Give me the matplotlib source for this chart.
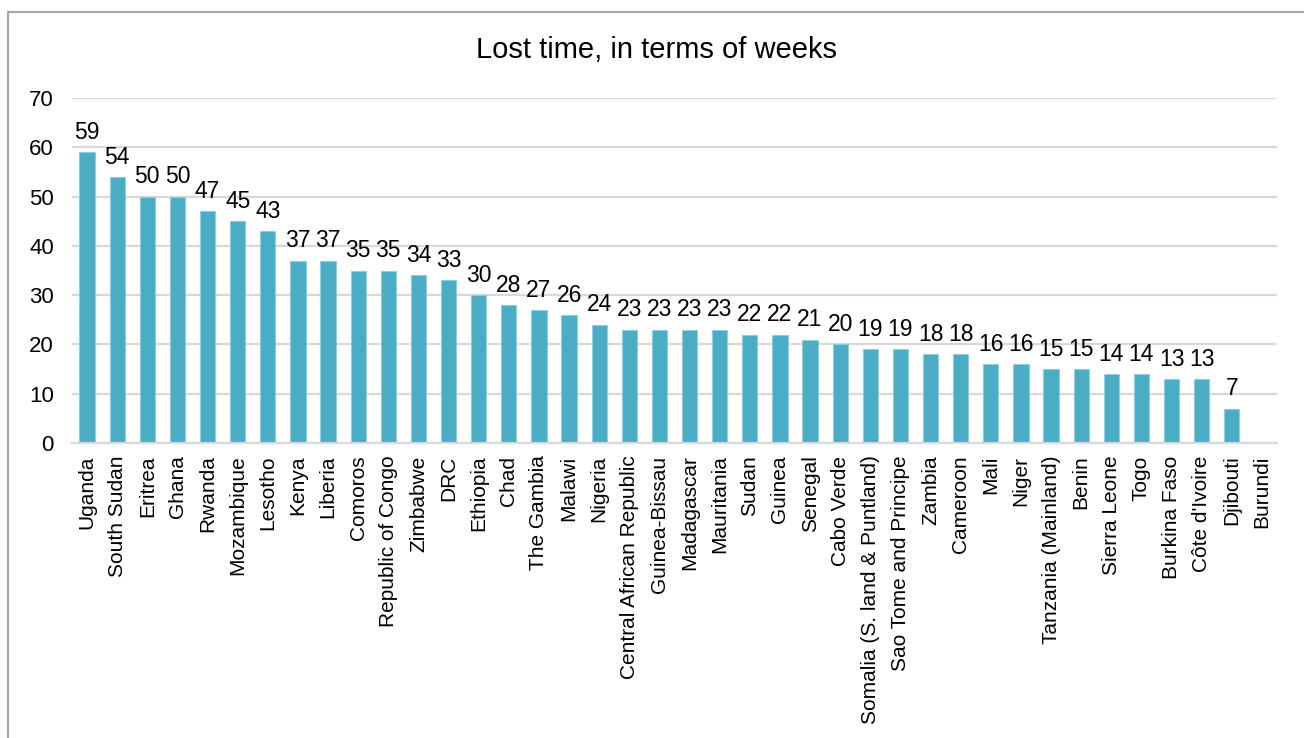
import matplotlib
matplotlib.use("Agg")
import matplotlib.pyplot as plt
import numpy as np
from matplotlib.lines import Line2D

plt.rcParams["font.family"] = ["Liberation Sans", "DejaVu Sans"]

countries = [
    "Uganda", "South Sudan", "Eritrea", "Ghana", "Rwanda", "Mozambique",
    "Lesotho", "Kenya", "Liberia", "Comoros", "Republic of Congo", "Zimbabwe",
    "DRC", "Ethiopia", "Chad", "The Gambia", "Malawi", "Nigeria",
    "Central African Republic", "Guinea-Bissau", "Madagascar", "Mauritania",
    "Sudan", "Guinea", "Senegal", "Cabo Verde", "Somalia (S. land & Puntland)",
    "Sao Tome and Principe", "Zambia", "Cameroon", "Mali", "Niger",
    "Tanzania (Mainland)", "Benin", "Sierra Leone", "Togo", "Burkina Faso",
    "Côte d'Ivoire", "Djibouti", "Burundi",
]
weeks = [
    59, 54, 50, 50, 47, 45, 43, 37, 37, 35, 35, 34, 33, 30, 28, 27, 26, 24,
    23, 23, 23, 23, 22, 22, 21, 20, 19, 19, 18, 18, 16, 16, 15, 15, 14, 14,
    13, 13, 7, None,
]
yticks = [0, 10, 20, 30, 40, 50, 60, 70]

W, H = 1304, 738
fig = plt.figure(figsize=(W / 100, H / 100), dpi=100)
ax = fig.add_axes([72 / W, 1 - 443 / H, (1277 - 72) / W, (443 - 98) / H])

vals = np.array([np.nan if v is None else v for v in weeks], dtype=float)
x = np.arange(len(countries))
ax.bar(x, np.nan_to_num(vals), width=0.51, color="#4BACC6",
       edgecolor="#8CCFE0", linewidth=0.8, zorder=3)

# value labels (skip missing values)
for xi, v in zip(x, vals):
    if np.isnan(v):
        continue
    ax.annotate(f"{int(v)}", xy=(xi, v), xytext=(0, 6), textcoords="offset points",
                ha="center", va="bottom", fontsize=16.5, color="#000000")

ax.set_xlim(-0.5, len(countries) - 0.5)
ax.set_ylim(0, 70)
ax.set_yticks(yticks)
ax.set_yticklabels([str(t) for t in yticks], fontsize=16)
ax.set_xticks(x)
ax.set_xticklabels(countries, rotation=90, fontsize=15, va="top", ha="center")
ax.tick_params(axis="both", length=0)
ax.tick_params(axis="x", pad=9)
ax.tick_params(axis="y", pad=13)

ax.grid(True, axis="y", color="#D9D9D9", linewidth=1.6, zorder=0)
ax.set_axisbelow(True)
for side in ["top", "right", "left"]:
    ax.spines[side].set_visible(False)
ax.spines["bottom"].set_color("#D9D9D9")
ax.spines["bottom"].set_linewidth(1.6)
ax.spines["bottom"].set_zorder(4)

fig.text(657 / W, 1 - 58 / H, "Lost time, in terms of weeks", ha="center",
         va="baseline", fontsize=21, color="#000000")

# chart frame (only left and top visible in the crop)
fx, fy = 7.5 / W, 1 - 11.5 / H
fig.add_artist(Line2D([fx, fx], [0, fy], transform=fig.transFigure,
                      color="#A6A6A6", linewidth=1.5))
fig.add_artist(Line2D([fx, 1], [fy, fy], transform=fig.transFigure,
                      color="#A6A6A6", linewidth=1.5))

fig.savefig("out.png", dpi=100)
